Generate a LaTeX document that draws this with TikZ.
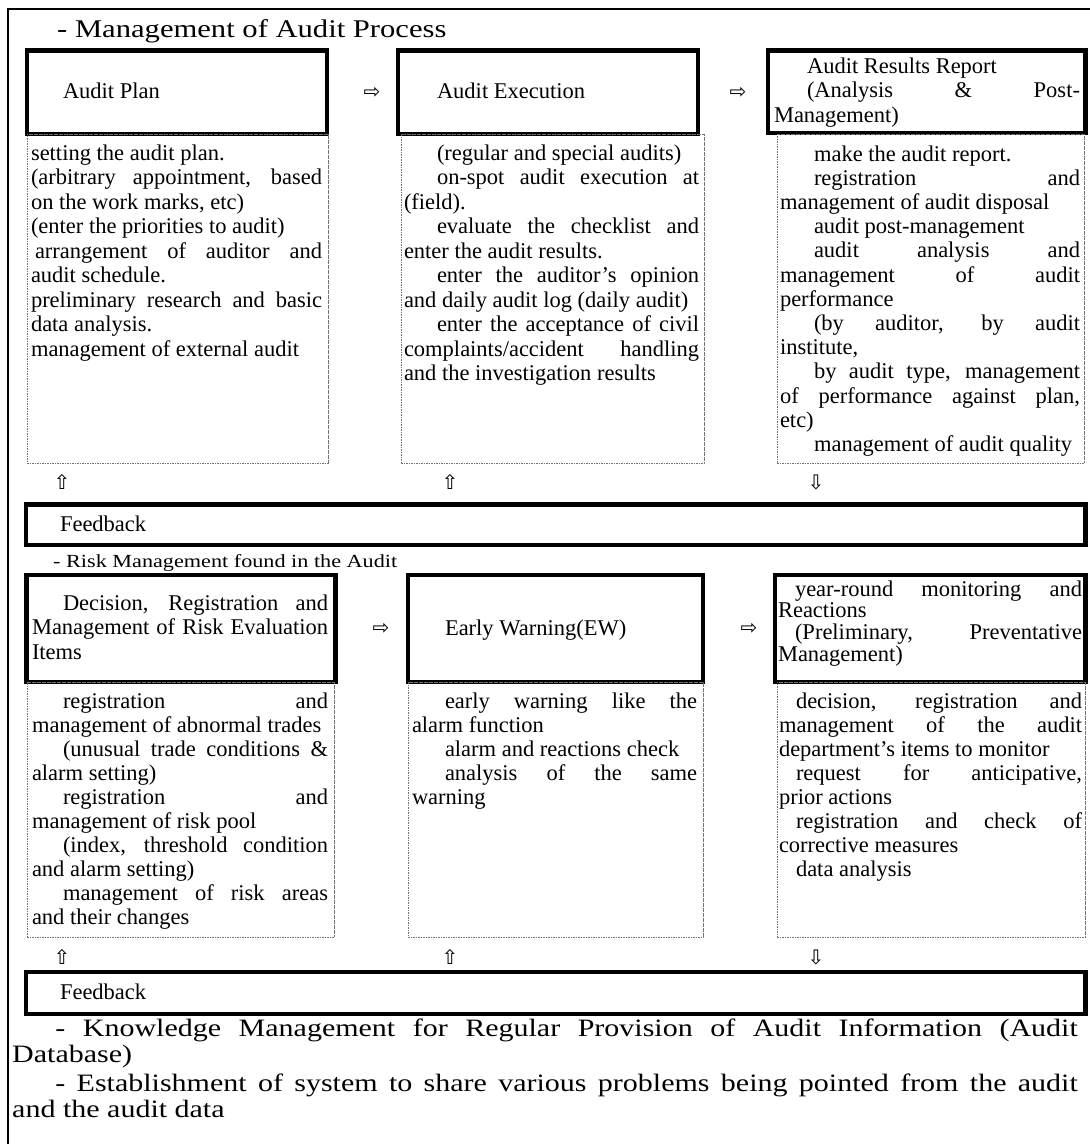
\documentclass[tikz,border=0pt]{standalone}
\usepackage{graphicx}
\usepackage{fontspec}
\setmainfont{Liberation Serif}
\newfontfamily\arrowfont{DejaVu Sans}
\newcommand\txtblk[4]{%
  \parbox[t]{#1pt}{\fontsize{22.5}{#2}\selectfont\tolerance=10000\hbadness=10000\hyphenpenalty=10000\exhyphenpenalty=10000\setlength\parindent{#3pt}#4}}
\tikzset{
  thickbox/.style={draw=black, line width=4.5pt, inner sep=0pt, outer sep=0pt, anchor=north west},
  dashbox/.style={draw=black!55, dash pattern=on 1.6pt off 0.9pt, line width=0.9pt, inner sep=0pt, outer sep=0pt, anchor=north west},
  txt/.style={inner sep=0pt, outer sep=0pt, anchor=base west, font=\fontsize{22.5}{24}\selectfont},
  arr/.style={inner sep=0pt, outer sep=0pt, font=\arrowfont\fontsize{20}{20}\selectfont}
}
\begin{document}
\begin{tikzpicture}[x=1pt,y=-1pt]
\useasboundingbox (0,0) rectangle (1090,1144);
\fill[white] (0,0) rectangle (1090,1144);
% outer frame
\coordinate (fbl) at (8,1144);
\coordinate (ftl) at (8,9);
\coordinate (ftr) at (1090,9);
\draw[line width=1.2pt] (fbl) -- (ftl) -- (ftr);

% title
\node[inner sep=0pt, anchor=base west] (title) at (57,37)
  {\scalebox{1.2}[1]{\fontsize{25.5}{25}\selectfont - Management of Audit Process}};

% ---------- top row ----------
\node[thickbox, minimum width=300pt, minimum height=83.5pt] (b1) at (27,50.5) {};
\node[dashbox, minimum width=301pt, minimum height=329pt] (d1) at (27,134) {};
\node[txt] (h1) at (63,98) {Audit Plan};
\node[txt] (t1) at (31,160) {\txtblk{291}{24.5}{0}{%
setting the audit plan.\par
(arbitrary appointment, based\linebreak on the work marks, etc)\par
(enter the priorities to audit)\par
\hspace*{4pt}arrangement of auditor and\linebreak audit schedule.\par
preliminary research and basic\linebreak data analysis.\par
management of external audit}};

\node[thickbox, minimum width=300pt, minimum height=83.5pt] (b2) at (398,50.5) {};
\node[dashbox, minimum width=303pt, minimum height=329pt] (d2) at (401,134) {};
\node[txt] (h2) at (437,98) {Audit Execution};
\node[txt] (t2) at (404,160) {\txtblk{295}{24.5}{33}{%
(regular and special audits)\par
on-spot audit execution at\linebreak (field).\par
evaluate the checklist and\linebreak enter the audit results.\par
enter the auditor’s opinion\linebreak and daily audit log (daily audit)\par
enter the acceptance of civil\linebreak complaints/accident handling\linebreak and the investigation results}};

\node[thickbox, minimum width=317.5pt, minimum height=82.5pt] (b3) at (768,50.5) {};
\node[dashbox, minimum width=307pt, minimum height=329pt] (d3) at (777,134) {};
\node[txt] (h3) at (774,73) {\txtblk{306}{24.5}{33}{%
Audit Results Report\par
(Analysis \& Post-\linebreak Management)}};
\node[txt] (t3) at (780,161) {\txtblk{300}{24.2}{34}{%
make the audit report.\par
registration and\linebreak management of audit disposal\par
audit post-management\par
audit analysis and\linebreak management of audit\linebreak performance\par
(by auditor, by audit\linebreak institute,\par
by audit type, management\linebreak of performance against plan,\linebreak etc)\par
management of audit quality}};

\node[arr] (a1) at (372,93) {⇨};
\node[arr] (a2) at (738,93) {⇨};

\node[arr] (u1) at (62,482) {⇧};
\node[arr] (u2) at (450,482) {⇧};
\node[arr] (u3) at (816,482) {⇩};

\node[thickbox, minimum width=1059.5pt, minimum height=40.5pt] (fb1) at (26,504.5) {};
\node[txt] (fbt1) at (60,531) {Feedback};

\node[inner sep=0pt, anchor=base west] (risk) at (53,567)
  {\scalebox{1.2}[1]{\fontsize{18.5}{20}\selectfont - Risk Management found in the Audit}};

% ---------- bottom row ----------
\node[thickbox, minimum width=309pt, minimum height=107pt] (b4) at (26.5,575) {};
\node[dashbox, minimum width=307pt, minimum height=255pt] (d4) at (27,682) {};
\node[txt] (h4) at (32,610) {\txtblk{296}{24.5}{31}{%
Decision, Registration and\linebreak Management of Risk Evaluation\linebreak Items}};
\node[txt] (t4) at (32,708) {\txtblk{296}{24}{31}{%
registration and\linebreak management of abnormal trades\par
(unusual trade conditions \&\linebreak alarm setting)\par
registration and\linebreak management of risk pool\par
(index, threshold condition\linebreak and alarm setting)\par
management of risk areas\linebreak and their changes}};

\node[thickbox, minimum width=295pt, minimum height=107pt] (b5) at (408,575) {};
\node[dashbox, minimum width=295pt, minimum height=255pt] (d5) at (408,682) {};
\node[txt] (h5) at (445,635) {Early Warning(EW)};
\node[txt] (t5) at (412,708) {\txtblk{285}{24}{33}{%
early warning like the\linebreak alarm function\par
alarm and reactions check\par
analysis of the same\linebreak warning}};

\node[thickbox, minimum width=310.5pt, minimum height=107pt] (b6) at (775,575) {};
\node[dashbox, minimum width=308pt, minimum height=255pt] (d6) at (777,682) {};
\node[txt] (h6) at (778,596) {\txtblk{304}{21.8}{17}{%
year-round monitoring and\linebreak Reactions\par
(Preliminary, Preventative\linebreak Management)}};
\node[txt] (t6) at (779,708) {\txtblk{303}{24}{17}{%
decision, registration and\linebreak management of the audit\linebreak department’s items to monitor\par
request for anticipative,\linebreak prior actions\par
registration and check of\linebreak corrective measures\par
data analysis}};

\node[arr] (a3) at (381,629) {⇨};
\node[arr] (a4) at (749,629) {⇨};

\node[arr] (u4) at (62,957) {⇧};
\node[arr] (u5) at (450,957) {⇧};
\node[arr] (u6) at (816,957) {⇩};

\node[thickbox, minimum width=1059.5pt, minimum height=42pt] (fb2) at (26,972) {};
\node[txt] (fbt2) at (60,999) {Feedback};

% ---------- bottom paragraphs ----------
\node[inner sep=0pt, anchor=base west] (km) at (12,1036)
  {\scalebox{1.2}[1]{\parbox[t]{888pt}{\fontsize{25}{26.5}\selectfont\tolerance=10000\hbadness=10000\hyphenpenalty=10000\setlength\parindent{36pt}\setlength\parskip{2pt}%
- Knowledge Management for Regular Provision of Audit Information (Audit\linebreak Database)\par
- Establishment of system to share various problems being pointed from the audit\linebreak and the audit data}}};
\end{tikzpicture}
\end{document}
